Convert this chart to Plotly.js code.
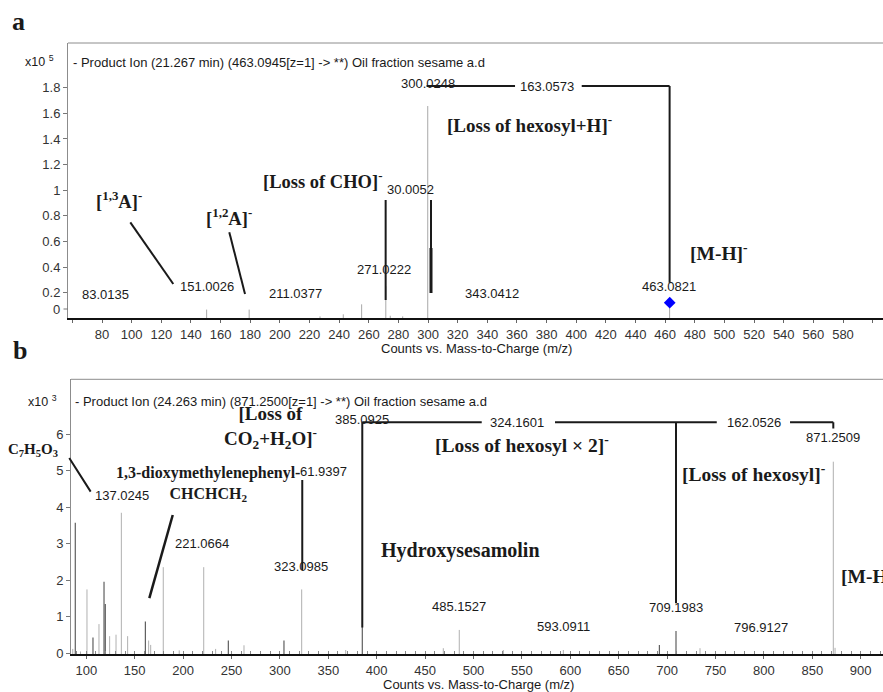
<!DOCTYPE html>
<html>
<head>
<meta charset="utf-8">
<script src="https://cdn.plot.ly/plotly-3.0.1.min.js"></script>
<style>html,body{margin:0;padding:0;background:#fff;}#chart{width:883px;height:692px;}</style>
</head>
<body>
<div id="chart"></div>
<script>
// ---------------- DATA ----------------
// Panel a (x10^5 counts)
const topPeakMz  = [150.6, 179.3, 227.1, 242.8, 255.2, 271.5, 274.5, 282.9, 299.8, 463.0];
const topPeakInt = [0.068, 0.068, 0.015, 0.031, 0.109, 0.25, 0.02, 0.015, 1.657, 0.122];
const topPrecursorMz  = [463.08];
const topPrecursorInt = [0.122];
const topLabelText = ['83.0135','151.0026','211.0377','271.0222','30.0052','300.0248','163.0573','343.0412','463.0821'];
const topLabelMz   = [82.6, 150.6, 210.8, 270.6, 288.1, 299.8, 380.0, 343.0, 462.9];
const topLabelInt  = [0.187, 0.247, 0.195, 0.383, 1.007, 1.834, 1.813, 0.195, 0.247];
const topTickVals  = [60,80,100,120,140,160,180,200,220,240,260,280,300,320,340,360,380,400,420,440,460,480,500,520,540,560,580,600];
const topTickText  = ['','80','100','120','140','160','180','200','220','240','260','280','300','320','340','360','380','400','420','440','460','480','500','520','540','560','580',''];
const topYTickVals = [0.2,0.4,0.6,0.8,1,1.2,1.4,1.6,1.8];

// Panel b (x10^3 counts)
const botDarkMz  = [88.6, 106.9, 118.3, 119.6, 161.0, 246.7, 304.2, 385.1, 692.0, 709.2];
const botDarkInt = [3.58, 0.43, 1.96, 1.35, 0.87, 0.35, 0.35, 0.73, 0.23, 0.61];
const botLightMz  = [86.0, 94.0, 100.7, 113.1, 124.1, 130.7, 136.2, 142.7, 164.4, 166.5, 179.5, 196.0, 221.3, 233.6, 262.9, 322.5, 368.0, 468.8, 485.3, 530.8, 592.8, 734.0, 871.7, 873.5];
const botLightInt = [0.12, 0.05, 1.75, 0.80, 0.47, 0.51, 3.85, 0.47, 0.35, 0.23, 2.36, 0.08, 2.36, 0.12, 0.22, 1.75, 0.09, 0.14, 0.64, 0.09, 0.09, 0.14, 5.25, 0.15];
const botLabelText = ['137.0245','221.0664','323.0985','385.0925','324.1601','162.0526','871.2509','485.1527','593.0911','709.1983','796.9127'];
const botLabelMz   = [136.6, 220.0, 322.0, 385.0, 544.6, 789.4, 871.0, 485.2, 592.5, 709.2, 797.2];
const botLabelInt  = [4.31, 3.01, 2.37, 6.41, 6.33, 6.33, 5.91, 1.28, 0.73, 1.25, 0.71];
const botTickVals = [100,150,200,250,300,350,400,450,500,550,600,650,700,750,800,850,900];
const botTickText = ['100','150','200','250','300','350','400','450','500','550','600','650','700','750','800','850','900'];
const botYTickVals = [0,1,2,3,4,5,6];

// ---------------- HELPERS ----------------
const W = 883, H = 692;
const px = v => v / W;
const py = v => 1 - v / H;
function stems(mz, ints, base) {
  const xs = [], ys = [];
  for (let i = 0; i < mz.length; i++) { xs.push(mz[i], mz[i], null); ys.push(base, ints[i], null); }
  return {xs, ys};
}
const SANS = 'Liberation Sans, Arial, sans-serif';
const SERIF = 'Liberation Serif, Times New Roman, serif';
const INK = '#1a1a1a';

const tp = stems(topPeakMz, topPeakInt, 0);
const bd = stems(botDarkMz, botDarkInt, -0.03);
const bl = stems(botLightMz, botLightInt, -0.03);

const traces = [
  {x: tp.xs, y: tp.ys, xaxis:'x', yaxis:'y', mode:'lines', line:{color:'#a8a8a8', width:1}, hoverinfo:'skip'},
  {x: topPrecursorMz, y: topPrecursorInt, xaxis:'x', yaxis:'y', mode:'markers',
   marker:{symbol:'diamond', color:'#0000ff', size:9}, hoverinfo:'skip', cliponaxis:false},
  {x: bl.xs, y: bl.ys, xaxis:'x2', yaxis:'y2', mode:'lines', line:{color:'#b0b0b0', width:1}, hoverinfo:'skip'},
  {x: bd.xs, y: bd.ys, xaxis:'x2', yaxis:'y2', mode:'lines', line:{color:'#505050', width:1.1}, hoverinfo:'skip'}
];

// ---------------- SHAPES (annotation connector lines, frames) ----------------
const shapes = [];
function seg(xr, yr, x0, y0, x1, y1, w) {
  shapes.push({type:'line', xref:xr, yref:yr, x0, y0, x1, y1, line:{color:INK, width:w||2}});
}
// frames (top grey lines)
shapes.push({type:'line', xref:'paper', yref:'paper', x0:px(68), x1:1, y0:py(43), y1:py(43), line:{color:'#8c8c8c', width:1}});
shapes.push({type:'line', xref:'paper', yref:'paper', x0:px(71), x1:1, y0:py(379.3), y1:py(379.3), line:{color:'#8c8c8c', width:1}});
// top zero tick (drawn displaced as in source)
shapes.push({type:'line', xref:'paper', yref:'paper', x0:px(63.5), x1:px(68), y0:py(309), y1:py(309), line:{color:'#777', width:1}});

// panel a connectors
seg('x','y', 299.0, 1.813, 358.7, 1.813);
seg('x','y', 403.7, 1.813, 463.0, 1.813);
seg('x','y', 463.0, 1.813, 463.0, 0.278);
seg('x','y', 271.4, 0.924, 271.4, 0.143);
seg('x','y', 302.0, 0.924, 302.0, 0.198);
seg('x','y', 302.0, 0.549, 302.0, 0.198, 3);
seg('x','y', 99.1, 0.749, 128.1, 0.268);
seg('x','y', 165.9, 0.671, 176.5, 0.19);
// panel b connectors
seg('x2','y2', 385.1, 6.33, 508.5, 6.33);
seg('x2','y2', 584.2, 6.33, 751.3, 6.33);
seg('x2','y2', 827.0, 6.33, 871.7, 6.33);
seg('x2','y2', 385.1, 6.33, 385.1, 0.71);
seg('x2','y2', 709.2, 6.33, 709.2, 1.37);
seg('x2','y2', 871.7, 6.33, 871.7, 6.16);
seg('x2','y2', 323.1, 4.75, 323.1, 2.28);
seg('x2','y2', 189.3, 3.79, 165.1, 1.51, 2.5);

// ---------------- ANNOTATIONS ----------------
const ann = [];
function lab(xr, yr, x, y, text, size, family, xanchor, extra) {
  ann.push(Object.assign({xref:xr, yref:yr, x, y, text, showarrow:false, xanchor:xanchor||'center', yanchor:'middle',
    font:{family:family||SANS, size:size||13, color:INK}}, extra||{}));
}
for (let i = 0; i < topLabelText.length; i++) lab('x','y', topLabelMz[i], topLabelInt[i], topLabelText[i], 13);
for (let i = 0; i < botLabelText.length; i++) lab('x2','y2', botLabelMz[i], botLabelInt[i], botLabelText[i], 13);
lab('x2','y2', 322.5, 4.99, '61.9397', 13, SANS, 'left', {xshift:-4});

// C7H5O3 connector (extends outside plot area)
ann.push({xref:'x2', yref:'y2', axref:'x2', ayref:'y2', x:104.5, y:4.43, ax:81.4, ay:5.39, text:'', showarrow:true,
  arrowhead:0, arrowwidth:2, arrowcolor:INK, standoff:0, startstandoff:0});

// bold labels panel a
lab('paper','paper', px(119), py(200), '<b>[<sup>1,3</sup>A]<sup>-</sup></b>', 18.5, SERIF);
lab('paper','paper', px(229), py(216.7), '<b>[<sup>1,2</sup>A]<sup>-</sup></b>', 18.5, SERIF);
lab('paper','paper', px(322), py(180), '<b>[Loss of CHO]<sup>-</sup></b>', 18.5, SERIF);
lab('paper','paper', px(529.5), py(124), '<b>[Loss of hexosyl+H]<sup>-</sup></b>', 19, SERIF);
lab('paper','paper', px(719.3), py(252.3), '<b>[M-H]<sup>-</sup></b>', 19.5, SERIF);
// bold labels panel b
lab('paper','paper', px(270), py(427.5), '<b>[Loss of</b><br><b>CO<sub>2</sub>+H<sub>2</sub>O]<sup>-</sup></b>', 19, SERIF);
lab('paper','paper', px(208), py(484), '<b>1,3-dioxymethylenephenyl-</b><br><b>CHCHCH<sub>2</sub></b>', 16, SERIF);
lab('paper','paper', px(33), py(450), '<b>C<sub>7</sub>H<sub>5</sub>O<sub>3</sub></b>', 15, SERIF);
lab('paper','paper', px(460), py(550.7), '<b>Hydroxysesamolin</b>', 20, SERIF);
lab('paper','paper', px(522), py(444), '<b>[Loss of hexosyl × 2]<sup>-</sup></b>', 19.5, SERIF);
lab('paper','paper', px(754), py(472.5), '<b>[Loss of hexosyl]<sup>-</sup></b>', 19.5, SERIF);
lab('paper','paper', px(838.7), py(575), '<b>[M-H]<sup>-</sup></b>', 19.5, SERIF, 'left');
// panel letters
lab('paper','paper', px(18.5), py(22), '<b>a</b>', 26, SERIF);
lab('paper','paper', px(19.5), py(350), '<b>b</b>', 26, SERIF);
// scale factors and headers
lab('paper','paper', px(56), py(61), 'x10 <sup>5</sup>', 12.5, SANS, 'right');
lab('paper','paper', px(59), py(401), 'x10 <sup>3</sup>', 12.5, SANS, 'right');
lab('paper','paper', px(70.5), py(62.3), '- Product Ion (21.267 min) (463.0945[z=1] -> **) Oil fraction sesame a.d', 13, SANS, 'left');
lab('paper','paper', px(73), py(401.5), '- Product Ion (24.263 min) (871.2500[z=1] -> **) Oil fraction sesame a.d', 13, SANS, 'left');
// axis titles
lab('paper','paper', px(476), py(348.5), 'Counts vs. Mass-to-Charge (m/z)', 13, SANS);
lab('paper','paper', px(478), py(684), 'Counts vs. Mass-to-Charge (m/z)', 13, SANS);
// displaced zero label of panel a
lab('paper','paper', px(62), py(309), '0', 13, SANS, 'right', {font:{family:SANS, size:13, color:'#333'}});

// ---------------- LAYOUT ----------------
const tickFont = {family:SANS, size:13, color:'#333'};
const layout = {
  width: W, height: H, autosize:false,
  margin:{l:0, r:0, t:0, b:0},
  paper_bgcolor:'#fff', plot_bgcolor:'#fff',
  showlegend:false, hovermode:false,
  xaxis:{domain:[px(68), 1], range:[57.06, 606.99], anchor:'y',
    tickmode:'array', tickvals:topTickVals, ticktext:topTickText,
    ticks:'outside', ticklen:3, tickcolor:'#666', tickwidth:1,
    showline:true, linecolor:'#111', linewidth:2, showgrid:false, zeroline:false,
    tickfont:tickFont},
  yaxis:{domain:[py(318.3), py(43)], range:[0, 2.149], anchor:'x',
    tickmode:'array', tickvals:topYTickVals,
    ticks:'outside', ticklen:4, tickcolor:'#777', tickwidth:1,
    showline:true, linecolor:'#8c8c8c', linewidth:1, showgrid:false, zeroline:false,
    tickfont:tickFont},
  xaxis2:{domain:[px(71), 1], range:[84.19, 923.04], anchor:'y2',
    tickmode:'array', tickvals:botTickVals, ticktext:botTickText,
    ticks:'outside', ticklen:3, tickcolor:'#666', tickwidth:1,
    minor:{dtick:10, tick0:0, ticks:'inside', ticklen:3, tickcolor:'#888', tickwidth:1, showgrid:false},
    showline:true, linecolor:'#111', linewidth:2, showgrid:false, zeroline:false,
    tickfont:tickFont},
  yaxis2:{domain:[py(654.3), py(379.3)], range:[-0.0274, 7.507], anchor:'x2',
    tickmode:'array', tickvals:botYTickVals,
    ticks:'outside', ticklen:4, tickcolor:'#777', tickwidth:1,
    showline:true, linecolor:'#8c8c8c', linewidth:1, showgrid:false, zeroline:false,
    tickfont:tickFont},
  shapes: shapes,
  annotations: ann
};

Plotly.newPlot('chart', traces, layout, {staticPlot:true, displayModeBar:false});
</script>
</body>
</html>
